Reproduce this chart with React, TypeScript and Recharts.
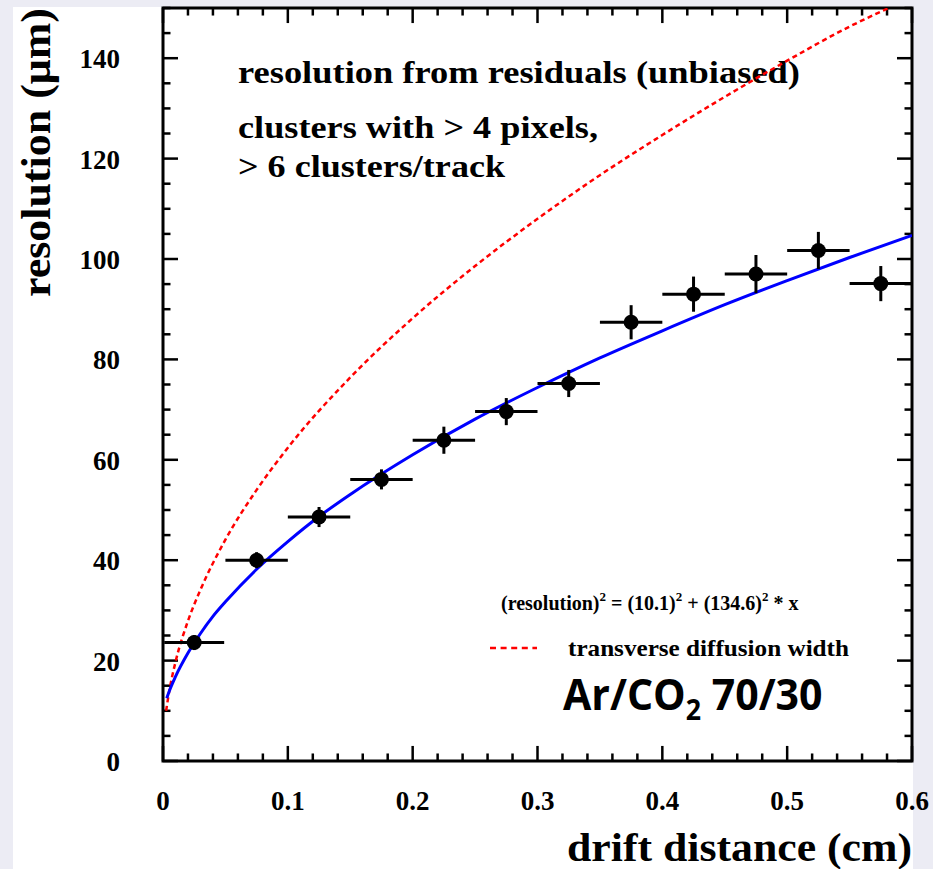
import React from "react";
import {
  ComposedChart,
  XAxis,
  YAxis,
  Line,
  Scatter,
  ErrorBar,
  ReferenceLine,
  ReferenceArea,
  Customized,
} from "recharts";

// measured points (bin centres, resolution in um, errors)
const binCenters = [0.025, 0.075, 0.125, 0.175, 0.225, 0.275, 0.325, 0.375, 0.425, 0.475, 0.525, 0.575];
const resolution = [23.6, 40.0, 48.6, 56.1, 63.9, 69.6, 75.2, 87.4, 93.0, 97.0, 101.7, 95.1];
const resolutionErr = [1.5, 1.6, 2.0, 2.0, 2.7, 2.7, 2.7, 3.4, 3.5, 3.8, 3.7, 3.5];
const binHalfWidth = [0.024, 0.025, 0.025, 0.025, 0.025, 0.025, 0.025, 0.025, 0.025, 0.025, 0.025, 0.025];

// fitted curve
const fitX = [0.003, 0.005, 0.01, 0.02, 0.03, 0.04, 0.05, 0.075, 0.1, 0.125, 0.15, 0.2, 0.25, 0.3, 0.35, 0.4, 0.45, 0.5, 0.55, 0.6];
const fitY = [12.5, 13.9, 16.8, 21.5, 25.4, 28.8, 31.7, 38.2, 43.7, 48.7, 53.1, 61.0, 68.1, 74.4, 80.3, 85.7, 90.9, 95.7, 100.3, 104.7];

// transverse diffusion width
const diffX = [0.0025, 0.005, 0.01, 0.02, 0.03, 0.05, 0.075, 0.1, 0.15, 0.2, 0.25, 0.3, 0.35, 0.4, 0.45, 0.5, 0.55, 0.5815];
const diffY = [10.0, 13.9, 19.7, 27.9, 34.1, 44.1, 54.0, 62.4, 76.4, 88.2, 98.6, 108.0, 116.7, 124.7, 132.3, 139.5, 146.3, 150];

const xTicks = [0, 0.1, 0.2, 0.3, 0.4, 0.5, 0.6];
const yTicks = [0, 20, 40, 60, 80, 100, 120, 140];

const points = binCenters.map((x, i) => ({
  x,
  y: resolution[i],
  ey: resolutionErr[i],
  ex: binHalfWidth[i],
}));
const fitData = fitX.map((x, i) => ({ x, y: fitY[i] }));
const diffData = diffX.map((x, i) => ({ x, y: diffY[i] }));

// small ticks on the frame
const xMinor = Array.from({ length: 31 }, (_, i) => Math.round(i * 2) / 100);
const yMinor = Array.from({ length: 31 }, (_, i) => i * 5);
const isMajorX = (v: number) => Math.abs(v * 10 - Math.round(v * 10)) < 1e-6;
const isMajorY = (v: number) => v % 20 === 0;

const SERIF = "'Liberation Serif', 'Times New Roman', serif";

const XTick = (props: any) => (
  <text
    x={props.x}
    y={props.y + 49}
    textAnchor="middle"
    fontFamily={SERIF}
    fontWeight="bold"
    fontSize={27}
    fill="#000"
  >
    {String(props.payload.value)}
  </text>
);

const YTick = (props: any) => (
  <text
    x={props.x - 43}
    y={props.y + 10}
    textAnchor="end"
    fontFamily={SERIF}
    fontWeight="bold"
    fontSize={27}
    fill="#000"
  >
    {String(props.payload.value)}
  </text>
);

const Dot = (props: any) => <circle cx={props.cx} cy={props.cy} r={7.5} fill="#000" />;

function Annotations() {
  const t = { fontFamily: SERIF, fontWeight: "bold" as const, fill: "#000" };
  return (
    <g>
      <text {...t} x={238} y={83} fontSize={31} textLength={562} lengthAdjust="spacingAndGlyphs">
        resolution from residuals (unbiased)
      </text>
      <text {...t} x={238} y={138} fontSize={31} textLength={360} lengthAdjust="spacingAndGlyphs">
        clusters with &gt; 4 pixels,
      </text>
      <text {...t} x={238} y={177} fontSize={31} textLength={267} lengthAdjust="spacingAndGlyphs">
        &gt; 6 clusters/track
      </text>
      <text {...t} x={501} y={610} fontSize={20}>
        (resolution)
        <tspan fontSize={13} dy={-9}>2</tspan>
        <tspan dy={9}> = (10.1)</tspan>
        <tspan fontSize={13} dy={-9}>2</tspan>
        <tspan dy={9}> + (134.6)</tspan>
        <tspan fontSize={13} dy={-9}>2</tspan>
        <tspan dy={9}> * x</tspan>
      </text>
      <line x1={490} x2={537} y1={648} y2={648} stroke="#ff0000" strokeWidth={2.5} strokeDasharray="6 4.6" />
      <text {...t} x={568} y={656} fontSize={24} textLength={281} lengthAdjust="spacingAndGlyphs">
        transverse diffusion width
      </text>
      <text
        transform="translate(563, 710) scale(0.955, 1)"
        x={0}
        y={0}
        fontFamily="'Open Sans', sans-serif"
        fontWeight="bold"
        fontSize={43}
        fill="#000"
      >
        Ar/CO<tspan fontSize={28} dy={10}>2</tspan>
        <tspan dy={-10}> 70/30</tspan>
      </text>
      <text
        {...t}
        transform="translate(50, 8) rotate(-90)"
        x={0}
        y={0}
        textAnchor="end"
        fontSize={42}
        textLength={289}
        lengthAdjust="spacingAndGlyphs"
      >
        resolution (μm)
      </text>
      <text {...t} x={912} y={861} textAnchor="end" fontSize={40} textLength={345} lengthAdjust="spacingAndGlyphs">
        drift distance (cm)
      </text>
    </g>
  );
}

export default function App() {
  const majLenY = 3.0;
  const minLenY = 1.5;
  const majLenX = 0.012;
  const minLenX = 0.006;
  return (
    <div style={{ position: "absolute", left: 0, top: 0, width: 933, height: 869, background: "#ececf4" }}>
      <div style={{ position: "absolute", left: 13, top: 7, width: 900, height: 862, background: "#fff" }} />
      <div style={{ position: "absolute", left: 0, top: 0 }}>
        <ComposedChart width={933} height={869} margin={{ top: 8, right: 21, left: 0, bottom: 0 }}>
          <XAxis
            type="number"
            dataKey="x"
            domain={[0, 0.6]}
            ticks={xTicks}
            allowDataOverflow
            axisLine={false}
            tickLine={false}
            tickSize={0}
            tickMargin={0}
            height={108}
            tick={<XTick />}
            interval={0}
          />
          <YAxis
            type="number"
            dataKey="y"
            domain={[0, 150]}
            ticks={yTicks}
            allowDataOverflow
            axisLine={false}
            tickLine={false}
            tickSize={0}
            tickMargin={0}
            width={163}
            tick={<YTick />}
            interval={0}
          />
          {xMinor.map((v) => {
            const len = isMajorX(v) ? majLenY : minLenY;
            return (
              <React.Fragment key={"xt" + v}>
                <ReferenceLine segment={[{ x: v, y: 0 }, { x: v, y: len }]} stroke="#000" strokeWidth={2.5} />
                <ReferenceLine segment={[{ x: v, y: 150 - len }, { x: v, y: 150 }]} stroke="#000" strokeWidth={2.5} />
              </React.Fragment>
            );
          })}
          {yMinor.map((v) => {
            const len = isMajorY(v) ? majLenX : minLenX;
            return (
              <React.Fragment key={"yt" + v}>
                <ReferenceLine segment={[{ x: 0, y: v }, { x: len, y: v }]} stroke="#000" strokeWidth={2.5} />
                <ReferenceLine segment={[{ x: 0.6 - len, y: v }, { x: 0.6, y: v }]} stroke="#000" strokeWidth={2.5} />
              </React.Fragment>
            );
          })}
          <Line
            data={diffData}
            dataKey="y"
            type="monotone"
            stroke="#ff0000"
            strokeWidth={2.5}
            strokeDasharray="5 3.5"
            dot={false}
            activeDot={false}
            isAnimationActive={false}
          />
          <Line
            data={fitData}
            dataKey="y"
            type="monotone"
            stroke="#0000ff"
            strokeWidth={3}
            dot={false}
            activeDot={false}
            isAnimationActive={false}
          />
          <Scatter data={points} dataKey="y" shape={<Dot />} isAnimationActive={false}>
            <ErrorBar dataKey="ex" direction="x" width={0} stroke="#000" strokeWidth={3} isAnimationActive={false} />
            <ErrorBar dataKey="ey" direction="y" width={0} stroke="#000" strokeWidth={3} isAnimationActive={false} />
          </Scatter>
          <ReferenceArea x1={0} x2={0.6} y1={0} y2={150} fill="none" stroke="#000" strokeWidth={3} />
          <Customized component={Annotations} />
        </ComposedChart>
      </div>
    </div>
  );
}
